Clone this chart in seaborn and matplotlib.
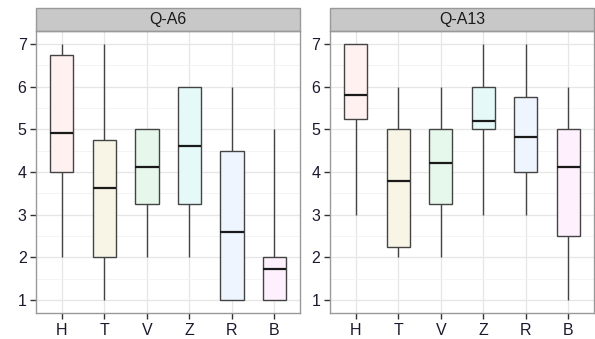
import numpy as np
import pandas as pd
import matplotlib.pyplot as plt
import matplotlib.colors as mcolors
from matplotlib.patches import Rectangle
import seaborn as sns

categories = ['H', 'T', 'V', 'Z', 'R', 'B']
panels = ['Q-A6', 'Q-A13']

# five-number summaries: min, q1, median, q3, max
qa6_min = [2, 1, 2, 2, 1, 1]
qa6_q1 = [4, 2, 3.25, 3.25, 1, 1]
qa6_med = [4.92, 3.62, 4.12, 4.62, 2.6, 1.72]
qa6_q3 = [6.75, 4.75, 5, 6, 4.5, 2]
qa6_max = [7, 7, 5, 6, 6, 5]

qa13_min = [3, 2, 2, 3, 3, 1]
qa13_q1 = [5.25, 2.25, 3.25, 5, 4, 2.5]
qa13_med = [5.8, 3.8, 4.22, 5.2, 4.82, 4.12]
qa13_q3 = [7, 5, 5, 6, 5.75, 5]
qa13_max = [7, 6, 6, 7, 7, 6]

base_colors = ['#F8766D', '#B79F00', '#00BA38', '#00BFC4', '#619CFF', '#F564E3']

rows = []
for panel, stats in [('Q-A6', (qa6_min, qa6_q1, qa6_med, qa6_q3, qa6_max)),
                     ('Q-A13', (qa13_min, qa13_q1, qa13_med, qa13_q3, qa13_max))]:
    for i, cat in enumerate(categories):
        for s in stats:
            rows.append({'panel': panel, 'group': cat, 'value': s[i]})
df = pd.DataFrame(rows)

# light fills like alpha=0.1 on white
palette = {}
for cat, c in zip(categories, base_colors):
    rgb = np.array(mcolors.to_rgb(c))
    palette[cat] = tuple(0.9 + 0.1 * rgb)

plt.rcParams['font.family'] = ['Liberation Sans', 'DejaVu Sans']

fig, axes = plt.subplots(1, 2, figsize=(5.95, 3.39), dpi=100)
fig.subplots_adjust(left=0.061, right=0.998, bottom=0.077, top=0.908, wspace=0.115)

for ax, panel in zip(axes, panels):
    sub = df[df['panel'] == panel]
    sns.boxplot(data=sub, x='group', y='value', hue='group', order=categories,
                hue_order=categories, palette=palette, saturation=1, width=0.55,
                whis=(0, 100), showcaps=False, legend=False, ax=ax,
                boxprops=dict(edgecolor='#444444', linewidth=1.0),
                whiskerprops=dict(color='#444444', linewidth=1.0),
                medianprops=dict(color='#1a1a1a', linewidth=1.6))
    ax.set_xlim(-0.6, 5.6)
    ax.set_ylim(0.7, 7.3)
    ax.set_yticks(range(1, 8))
    ax.set_yticks(np.arange(1.5, 7, 1), minor=True)
    ax.set_xlabel('')
    ax.set_ylabel('')
    ax.set_facecolor('white')
    ax.grid(True, which='major', color='#e6e6e6', linewidth=0.9)
    ax.grid(True, which='minor', axis='y', color='#f2f2f2', linewidth=0.6)
    ax.set_axisbelow(True)
    for sp in ax.spines.values():
        sp.set_color('#999999')
        sp.set_linewidth(1.0)
    ax.tick_params(axis='both', which='major', colors='#333333', labelcolor='#1a1a2e',
                   labelsize=11.5, length=4, width=1, pad=3)
    ax.tick_params(axis='both', which='minor', length=0)
    # facet strip
    strip = Rectangle((0, 1.0), 1, 0.081, transform=ax.transAxes, clip_on=False,
                      facecolor='#c8c8c8', edgecolor='#999999', linewidth=1.0)
    ax.add_patch(strip)
    ax.text(0.5, 1.04, panel, transform=ax.transAxes, ha='center', va='center',
            fontsize=11.5, color='#1a1a1a')

plt.savefig('out.png', dpi=100)
